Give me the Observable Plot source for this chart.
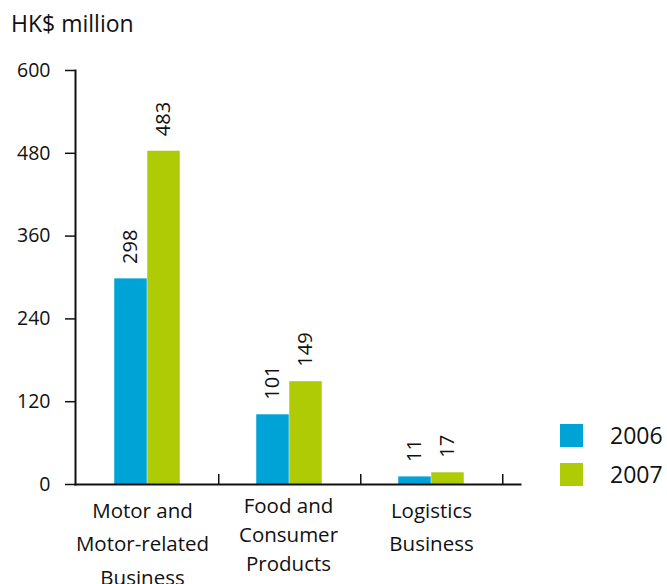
<!DOCTYPE html>
<html>
<head>
<meta charset="utf-8">
<script src="https://cdn.jsdelivr.net/npm/d3@7"></script>
<script src="https://cdn.jsdelivr.net/npm/@observablehq/plot@0.6"></script>
<style>
  body { margin: 0; background: #fff; font-family: "Open Sans", sans-serif; }
  #wrap { position: relative; width: 667px; height: 584px; }
  #chart { position: absolute; left: 0; top: 0; }
  #title { position: absolute; left: 11px; top: 7px; font-size: 23px; color: #111; }
  .leg { position: absolute; left: 560px; display: flex; align-items: center; font-size: 23px; color: #111; }
  .sw { width: 23px; height: 23px; margin-right: 27px; }
</style>
</head>
<body>
<div id="wrap">
  <div id="chart"></div>
  <div id="title">HK$ million</div>
  <div id="legend"></div>
</div>
<script>
const categories = ["Motor and Motor-related Business", "Food and Consumer Products", "Logistics Business"];
const categoryLabels = ["Motor and\nMotor-related\nBusiness", "Food and\nConsumer\nProducts", "Logistics\nBusiness"];
const years = ["2006", "2007"];
const values2006 = [298, 101, 11];
const values2007 = [483, 149, 17];
const yTicks = [0, 120, 240, 360, 480, 600];
const colors = ["#00a3d5", "#afcb06"];

const d2006 = categories.map((c, i) => ({category: c, value: values2006[i]}));
const d2007 = categories.map((c, i) => ({category: c, value: values2007[i]}));
const labelData = categories.map((c, i) => ({category: c, label: categoryLabels[i]}));

const x0 = 75, x1 = 502.5;
const bw = (x1 - x0) / categories.length;
const barW = 33;
const half = bw / 2;

const labelMark = (cat, opts) => Plot.text(labelData.filter(d => d.category === cat), {
  x: "category", text: "label", frameAnchor: "bottom", lineAnchor: "top",
  fontSize: 20.5, fill: "#111", ...opts
});

const plot = Plot.plot({
  width: 667,
  height: 584,
  marginTop: 70,
  marginBottom: 100,
  marginLeft: 75,
  marginRight: 147,
  style: {fontFamily: "Open Sans, sans-serif", color: "#111", background: "transparent"},
  x: {type: "band", domain: categories, range: [x0, x1], padding: 0, axis: null},
  y: {domain: [0, 600], axis: null},
  marks: [
    Plot.barY(d2006, {x: "category", y: "value", fill: colors[0], insetLeft: half - barW, insetRight: half}),
    Plot.barY(d2007, {x: "category", y: "value", fill: colors[1], insetLeft: half, insetRight: half - barW}),
    Plot.text(d2006, {x: "category", y: "value", text: d => String(d.value), rotate: -90, textAnchor: "start", dx: -barW / 2, dy: -15, fontSize: 20, fill: "#111"}),
    Plot.text(d2007, {x: "category", y: "value", text: d => String(d.value), rotate: -90, textAnchor: "start", dx: barW / 2, dy: -15, fontSize: 20, fill: "#111"}),
    Plot.axisY({ticks: yTicks, tickSize: 10, tickPadding: 15, fontSize: 19.5, stroke: "#111", strokeWidth: 1.5, fill: "#111", label: null}),
    Plot.ruleX(categories, {x: d => d, dx: half, insetTop: 414 - 10, stroke: "#111", strokeWidth: 1.5}),
    Plot.frame({anchor: "left", stroke: "#111", strokeWidth: 2}),
    Plot.frame({anchor: "bottom", stroke: "#111", strokeWidth: 2}),
    labelMark(categories[0], {dx: -5, dy: 9, lineHeight: 1.65}),
    labelMark(categories[1], {dx: -1, dy: 8, lineHeight: 1.42}),
    labelMark(categories[2], {dy: 9, lineHeight: 1.65})
  ]
});
document.getElementById("chart").appendChild(plot);

const legend = document.getElementById("legend");
years.forEach((y, i) => {
  const row = document.createElement("div");
  row.className = "leg";
  row.style.top = (419 + i * 39) + "px";
  row.innerHTML = `<div class="sw" style="background:${colors[i]}"></div><span>${y}</span>`;
  legend.appendChild(row);
});
</script>
</body>
</html>
